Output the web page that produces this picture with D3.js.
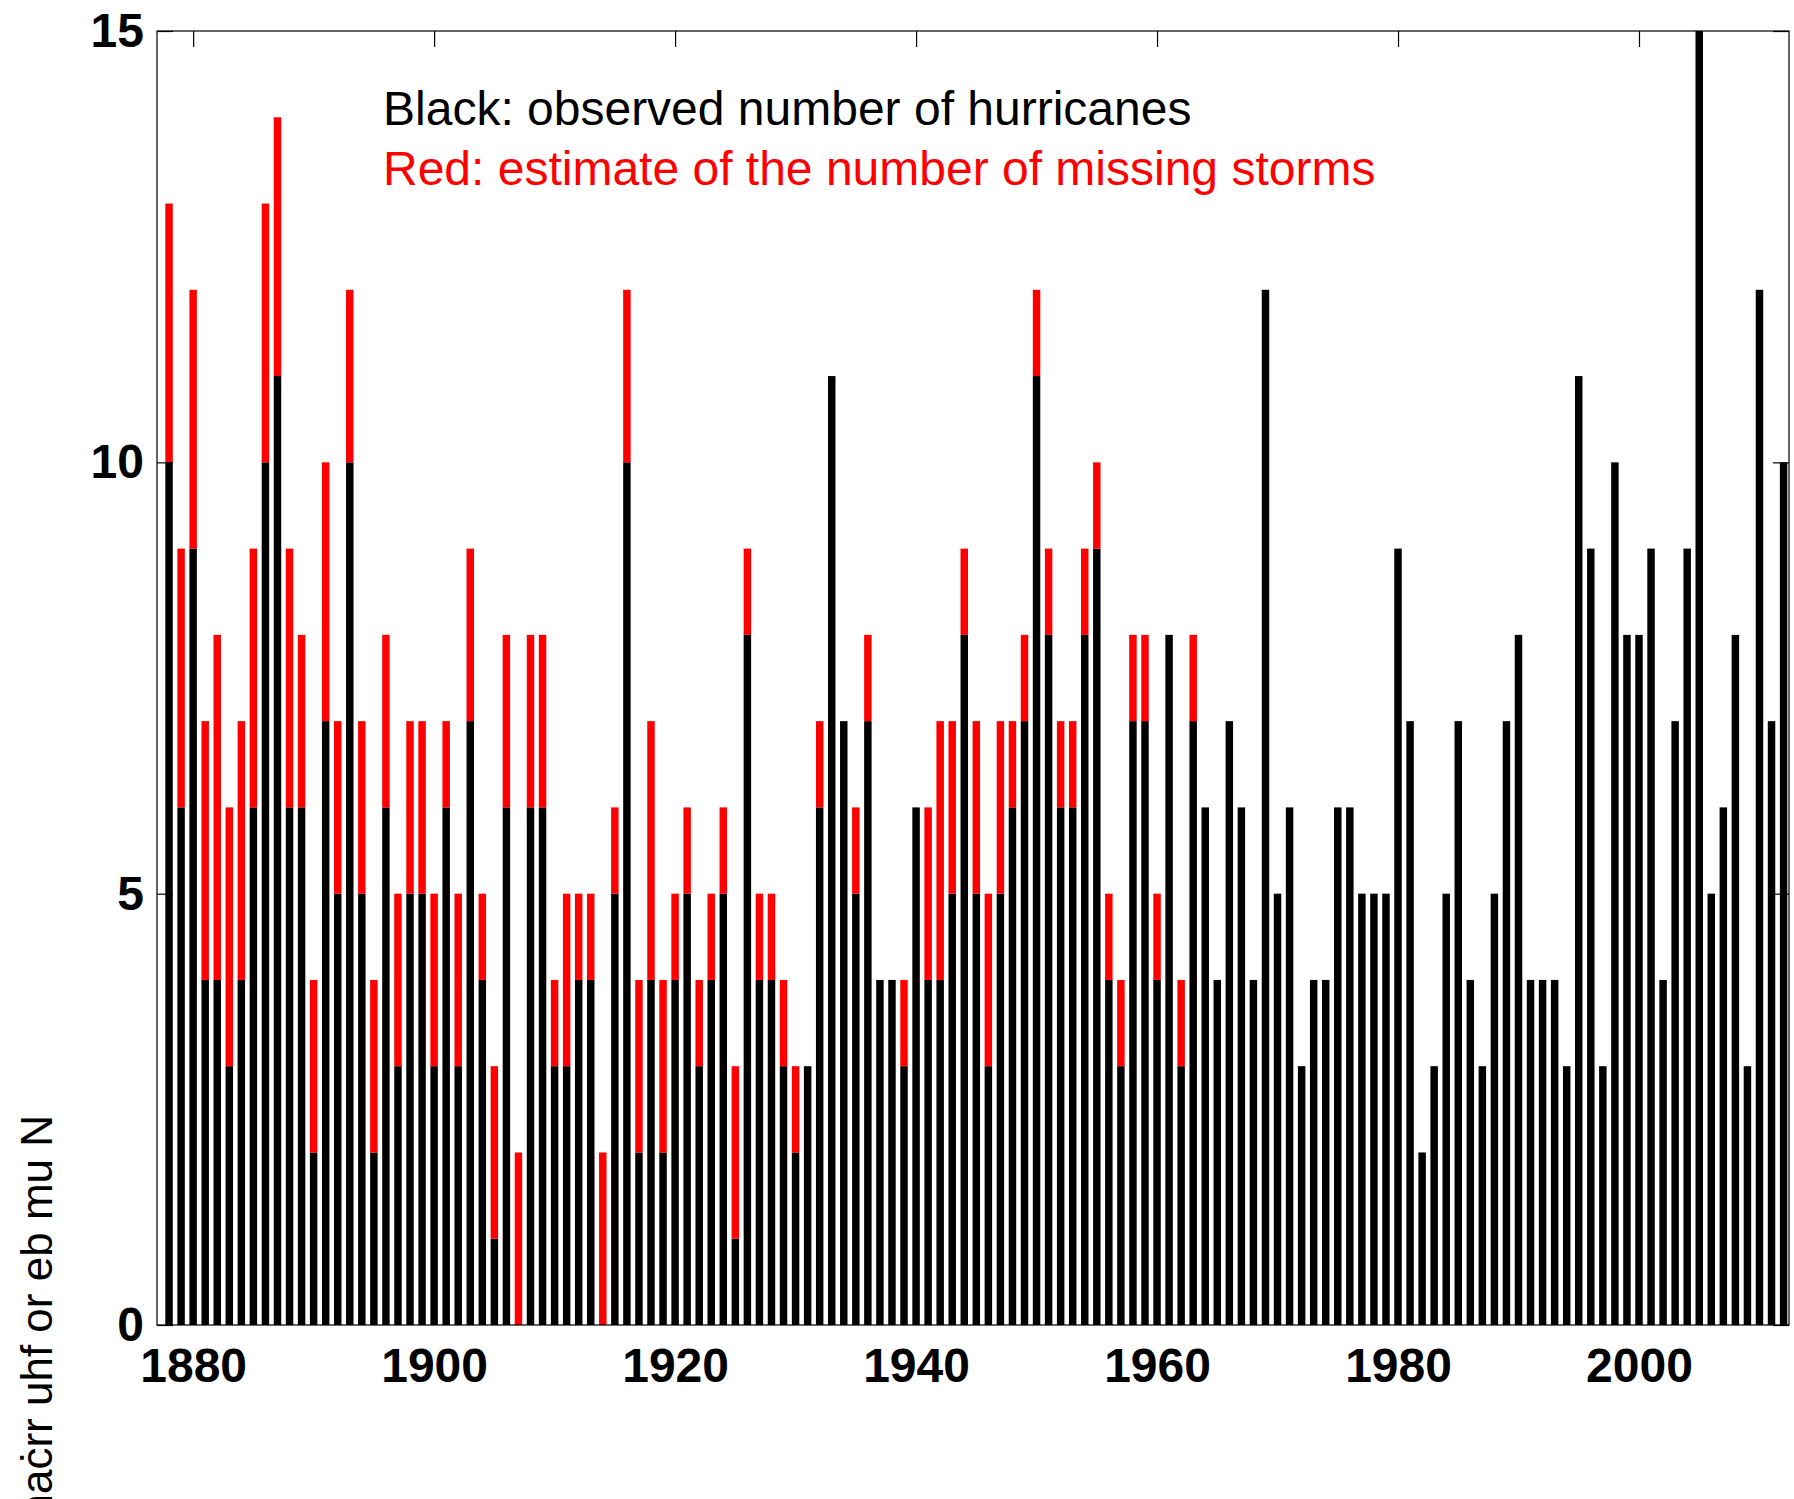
<!DOCTYPE html>
<html>
<head>
<meta charset="utf-8">
<script src="https://cdn.jsdelivr.net/npm/d3@7"></script>
<style>
  body { margin: 0; background: #fff; }
  svg { display: block; }
</style>
</head>
<body>
<div class="hurricane-container"></div>
<script>
const outerWidth = 1794;
const outerHeight = 1499;
const plot = {left: 157, right: 1789, top: 31, bottom: 1325};
const fontFamily = '"Liberation Sans", Arial, Helvetica, sans-serif';

// years 1878 .. 2012
const years = d3.range(1878, 2013);

// black: observed number of hurricanes
const observed = [
  10, 6, 9, 4, 4, 3, 4, 6, 10, 11,
  6, 6, 2, 7, 5, 10, 5, 2, 6, 3,
  5, 5, 3, 6, 3, 7, 4, 1, 6, 0,
  6, 6, 3, 3, 4, 4, 0, 5, 10, 2,
  4, 2, 4, 5, 3, 4, 5, 1, 8, 4,
  4, 3, 2, 3, 6, 11, 7, 5, 7, 4,
  4, 3, 6, 4, 4, 5, 8, 5, 3, 5,
  6, 7, 11, 8, 6, 6, 8, 9, 4, 3,
  7, 7, 4, 8, 3, 7, 6, 4, 7, 6,
  4, 12, 5, 6, 3, 4, 4, 6, 6, 5,
  5, 5, 9, 7, 2, 3, 5, 7, 4, 3,
  5, 7, 8, 4, 4, 4, 3, 11, 9, 3,
  10, 8, 8, 9, 4, 7, 9, 15, 5, 6,
  8, 3, 12, 7, 10
];

// red: estimate of the number of missing storms
const missing = [
  3, 3, 3, 3, 4, 3, 3, 3, 3, 3,
  3, 2, 2, 3, 2, 2, 2, 2, 2, 2,
  2, 2, 2, 1, 2, 2, 1, 2, 2, 2,
  2, 2, 1, 2, 1, 1, 2, 1, 2, 2,
  3, 2, 1, 1, 1, 1, 1, 2, 1, 1,
  1, 1, 1, 0, 1, 0, 0, 1, 1, 0,
  0, 1, 0, 2, 3, 2, 1, 2, 2, 2,
  1, 1, 1, 1, 1, 1, 1, 1, 1, 1,
  1, 1, 1, 0, 1, 1, 0, 0, 0, 0,
  0, 0, 0, 0, 0, 0, 0, 0, 0, 0,
  0, 0, 0, 0, 0, 0, 0, 0, 0, 0,
  0, 0, 0, 0, 0, 0, 0, 0, 0, 0,
  0, 0, 0, 0, 0, 0, 0, 0, 0, 0,
  0, 0, 0, 0, 0
];

const xTicks = [1880, 1900, 1920, 1940, 1960, 1980, 2000];
const yTicks = [0, 5, 10, 15];
const legendLines = [
  {text: 'Black: observed number of hurricanes', color: '#000'},
  {text: 'Red: estimate of the number of missing storms', color: '#ff0000'}
];
const yLabel = 'senaċrr uhf or eb mu N';

const rows = years.map((year, i) => ({year: year, observed: observed[i], missing: missing[i]}));
const stack = d3.stack().keys(['observed', 'missing'])(rows);
const barColor = {observed: '#000', missing: '#ff0000'};

const x = d3.scaleLinear()
  .domain([1877, 2012.45])
  .range([plot.left, plot.right]);

const y = d3.scaleLinear()
  .domain([0, 15])
  .range([plot.bottom, plot.top]);

const barWidth = (x(1) - x(0)) * 0.62;

const svg = d3.select('.hurricane-container').append('svg')
  .attr('width', outerWidth)
  .attr('height', outerHeight);

// bars
svg.append('g')
  .selectAll('g')
  .data(stack)
  .join('g')
  .attr('fill', d => barColor[d.key])
  .selectAll('rect')
  .data(d => d.filter(s => s[1] > s[0]))
  .join('rect')
  .attr('x', d => x(d.data.year) - barWidth / 2)
  .attr('width', barWidth)
  .attr('y', d => y(d[1]))
  .attr('height', d => y(d[0]) - y(d[1]));

// axes box and inward ticks
const tickLen = 16;

const gx = svg.append('g')
  .attr('transform', `translate(0, ${plot.bottom})`)
  .call(d3.axisBottom(x).tickValues(xTicks).tickFormat(d3.format('d'))
    .tickSize(-tickLen).tickSizeOuter(0).tickPadding(23));

svg.append('g')
  .attr('transform', `translate(0, ${plot.top})`)
  .call(d3.axisTop(x).tickValues(xTicks).tickFormat('')
    .tickSize(-tickLen).tickSizeOuter(0));

const gy = svg.append('g')
  .attr('transform', `translate(${plot.left}, 0)`)
  .call(d3.axisLeft(y).tickValues(yTicks)
    .tickSize(-tickLen).tickSizeOuter(0).tickPadding(13));

svg.append('g')
  .attr('transform', `translate(${plot.right}, 0)`)
  .call(d3.axisRight(y).tickValues(yTicks).tickFormat('')
    .tickSize(-tickLen).tickSizeOuter(0));

svg.selectAll('.domain').remove();
svg.selectAll('.tick line').attr('stroke', '#000').attr('stroke-width', 1.2);

svg.append('rect')
  .attr('x', plot.left)
  .attr('y', plot.top)
  .attr('width', plot.right - plot.left)
  .attr('height', plot.bottom - plot.top)
  .attr('fill', 'none')
  .attr('stroke', '#000')
  .attr('stroke-width', 1.2);

[gx, gy].forEach(g => g.selectAll('text')
  .attr('font-family', fontFamily)
  .attr('font-size', 48)
  .attr('font-weight', 'bold')
  .attr('fill', '#000'));

// legend text
svg.append('g')
  .selectAll('text')
  .data(legendLines)
  .join('text')
  .attr('x', 383)
  .attr('y', (d, i) => 125 + i * 60)
  .attr('font-family', fontFamily)
  .attr('font-size', 48)
  .attr('fill', d => d.color)
  .text(d => d.text);

// y label, cut off by the bottom edge as in the original figure
svg.append('text')
  .attr('transform', 'translate(52, 1115) rotate(-90)')
  .attr('text-anchor', 'end')
  .attr('font-family', fontFamily)
  .attr('font-size', 44)
  .attr('fill', '#000')
  .text(yLabel);
</script>
</body>
</html>
